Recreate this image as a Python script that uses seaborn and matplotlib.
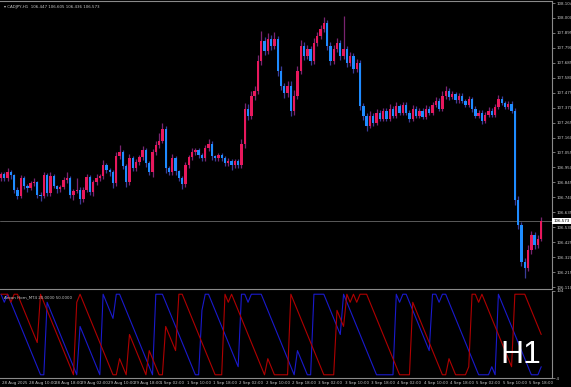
import numpy as np
import pandas as pd
import matplotlib
matplotlib.use("Agg")
import matplotlib.pyplot as plt
import matplotlib.transforms as mtransforms
import seaborn as sns

# ---------------- data ----------------
symbol_header = "\u25be CADJPY,H1  106.447 106.605 106.436 106.573"
indicator_label = "Aroon Horn_MT4 20.0000 50.0000"
period_label = "H1"

first_open = 106.873
closes = [
    106.901, 106.873, 106.915, 106.894, 106.789, 106.747, 106.873, 106.817, 106.803, 106.838,
    106.845, 106.754, 106.747, 106.894, 106.768, 106.887, 106.817, 106.796, 106.810, 106.859,
    106.873, 106.754, 106.782, 106.789, 106.726, 106.789, 106.880, 106.775, 106.845, 106.873,
    106.887, 106.964, 106.929, 106.915, 106.838, 107.027, 107.055, 106.957, 106.845, 107.013,
    106.943, 106.985, 107.020, 107.069, 106.978, 106.915, 107.055, 107.104, 107.139, 107.223,
    106.943, 106.915, 107.013, 106.922, 106.873, 106.831, 106.964, 107.020, 107.055, 107.069,
    107.034, 107.013, 107.083, 107.118, 107.027, 107.013, 107.034, 107.013, 106.978, 106.992,
    106.964, 106.992, 106.964, 107.118, 107.363, 107.314, 107.454, 107.489, 107.699, 107.839,
    107.769, 107.853, 107.804, 107.853, 107.629, 107.524, 107.475, 107.524, 107.349, 107.454,
    107.629, 107.804, 107.734, 107.783, 107.699, 107.825, 107.874, 107.923, 107.965, 107.804,
    107.699, 107.783, 107.825, 107.734, 107.783, 107.685, 107.734, 107.643, 107.685, 107.384,
    107.314, 107.244, 107.314, 107.265, 107.335, 107.293, 107.349, 107.293, 107.363, 107.314,
    107.384, 107.335, 107.391, 107.335, 107.293, 107.363, 107.314, 107.349, 107.307, 107.363,
    107.335, 107.391, 107.419, 107.363, 107.454, 107.489, 107.447, 107.468, 107.426, 107.454,
    107.419, 107.391, 107.433, 107.363, 107.314, 107.335, 107.279, 107.321, 107.349, 107.321,
    107.377, 107.433, 107.405, 107.377, 107.398, 107.349, 106.719, 106.544, 106.285, 106.243,
    106.369, 106.474, 106.404, 106.447, 106.573,
]
upper_wick = [
    0.020, 0.015, 0.030, 0.020, 0.010, 0.020, 0.025, 0.020, 0.015, 0.020,
    0.030, 0.010, 0.020, 0.025, 0.015, 0.030, 0.020, 0.010, 0.020, 0.025,
    0.045, 0.020, 0.015, 0.090, 0.020, 0.020, 0.025, 0.015, 0.020, 0.030,
    0.020, 0.035, 0.020, 0.015, 0.020, 0.030, 0.050, 0.020, 0.015, 0.030,
    0.020, 0.025, 0.020, 0.030, 0.015, 0.020, 0.025, 0.030, 0.050, 0.040,
    0.020, 0.015, 0.030, 0.020, 0.010, 0.020, 0.025, 0.020, 0.030, 0.020,
    0.015, 0.020, 0.025, 0.030, 0.020, 0.010, 0.020, 0.015, 0.020, 0.025,
    0.020, 0.015, 0.020, 0.030, 0.040, 0.030, 0.035, 0.030, 0.040, 0.070,
    0.030, 0.040, 0.025, 0.050, 0.020, 0.030, 0.020, 0.035, 0.030, 0.040,
    0.030, 0.040, 0.025, 0.030, 0.020, 0.035, 0.030, 0.030, 0.040, 0.020,
    0.025, 0.030, 0.035, 0.020, 0.230, 0.020, 0.030, 0.020, 0.025, 0.020,
    0.020, 0.015, 0.030, 0.020, 0.025, 0.015, 0.020, 0.015, 0.030, 0.020,
    0.025, 0.015, 0.020, 0.020, 0.015, 0.025, 0.020, 0.015, 0.020, 0.025,
    0.015, 0.020, 0.025, 0.020, 0.030, 0.035, 0.020, 0.020, 0.015, 0.020,
    0.020, 0.015, 0.020, 0.015, 0.020, 0.020, 0.015, 0.020, 0.025, 0.015,
    0.020, 0.025, 0.020, 0.015, 0.020, 0.020, 0.020, 0.030, 0.020, 0.030,
    0.035, 0.030, 0.020, 0.025, 0.032,
]
lower_wick = [
    0.015, 0.020, 0.020, 0.025, 0.020, 0.020, 0.015, 0.020, 0.025, 0.015,
    0.020, 0.020, 0.035, 0.015, 0.020, 0.020, 0.015, 0.025, 0.020, 0.015,
    0.020, 0.020, 0.030, 0.015, 0.030, 0.020, 0.015, 0.020, 0.025, 0.015,
    0.020, 0.015, 0.020, 0.025, 0.030, 0.020, 0.015, 0.020, 0.030, 0.020,
    0.020, 0.015, 0.020, 0.020, 0.025, 0.020, 0.030, 0.015, 0.020, 0.020,
    0.030, 0.020, 0.020, 0.025, 0.020, 0.030, 0.020, 0.015, 0.020, 0.015,
    0.020, 0.015, 0.020, 0.020, 0.025, 0.020, 0.015, 0.020, 0.020, 0.015,
    0.035, 0.020, 0.020, 0.020, 0.030, 0.030, 0.025, 0.030, 0.020, 0.030,
    0.030, 0.025, 0.030, 0.020, 0.035, 0.030, 0.040, 0.030, 0.040, 0.030,
    0.020, 0.025, 0.030, 0.020, 0.030, 0.020, 0.020, 0.025, 0.020, 0.030,
    0.030, 0.020, 0.020, 0.030, 0.020, 0.030, 0.020, 0.030, 0.025, 0.030,
    0.030, 0.035, 0.020, 0.025, 0.020, 0.020, 0.015, 0.020, 0.020, 0.015,
    0.020, 0.020, 0.015, 0.020, 0.025, 0.020, 0.015, 0.020, 0.020, 0.015,
    0.020, 0.015, 0.020, 0.020, 0.015, 0.020, 0.020, 0.015, 0.020, 0.020,
    0.015, 0.020, 0.020, 0.025, 0.020, 0.015, 0.025, 0.020, 0.015, 0.020,
    0.020, 0.015, 0.020, 0.020, 0.015, 0.020, 0.035, 0.030, 0.030, 0.070,
    0.020, 0.030, 0.025, 0.020, 0.011,
]
x_labels = [
    "28 Aug 2025", "28 Aug 10:00", "28 Aug 18:00", "29 Aug 02:00", "29 Aug 10:00",
    "29 Aug 18:00", "1 Sep 02:00", "1 Sep 10:00", "1 Sep 18:00", "2 Sep 02:00",
    "2 Sep 10:00", "2 Sep 18:00", "3 Sep 02:00", "3 Sep 10:00", "3 Sep 18:00",
    "4 Sep 02:00", "4 Sep 10:00", "4 Sep 18:00", "5 Sep 02:00", "5 Sep 10:00",
    "5 Sep 18:00",
]
bars_per_label = 8
price_ticks = [108.104, 108.000, 107.895, 107.790, 107.685, 107.580, 107.475, 107.370,
               107.265, 107.160, 107.055, 106.950, 106.845, 106.740, 106.635, 106.530,
               106.425, 106.320, 106.215, 106.110]
last_price = 106.573
aroon_period = 10
ind_ticks = [104, -4]

# ---------------- derived ----------------
n = len(closes)
closes_a = np.array(closes)
opens_a = np.array([first_open] + closes[:-1])
highs_a = np.maximum(opens_a, closes_a) + np.array(upper_wick)
lows_a = np.minimum(opens_a, closes_a) - np.array(lower_wick)
idx = np.arange(n)

aroon_up, aroon_dn = [], []
for i in range(n):
    s = max(0, i - aroon_period)
    wh = highs_a[s:i + 1]
    wl = lows_a[s:i + 1]
    hi_pos = s + (len(wh) - 1 - int(np.argmax(wh[::-1])))
    lo_pos = s + (len(wl) - 1 - int(np.argmin(wl[::-1])))
    aroon_up.append(100.0 * (aroon_period - (i - hi_pos)) / aroon_period)
    aroon_dn.append(100.0 * (aroon_period - (i - lo_pos)) / aroon_period)
ind_df = pd.DataFrame({"bar": idx, "up": aroon_up, "down": aroon_dn})

# ---------------- style ----------------
sns.set_theme(style="dark", rc={"axes.facecolor": "black", "figure.facecolor": "black"})
plt.rcParams["font.family"] = ["DejaVu Sans"]

BULL = "#E8185C"
BEAR = "#1E8CFF"
WICK_BULL = "#7A2470"
WICK_BEAR = "#3A3C98"
TXT = "#C8C8C8"
FRAME = "#8A8A8A"
FS = 2.9

W, H = 571, 387
fig = plt.figure(figsize=(W / 100, H / 100), dpi=100)
fig.patch.set_facecolor("black")

right_px = 552
px_per_bar = 3.294
x0 = -1.0 / px_per_bar
xlim = (x0, x0 + right_px / px_per_bar)

ax = fig.add_axes([0, 1 - 289 / H, right_px / W, 288 / H])
ax2 = fig.add_axes([0, 1 - 378 / H, right_px / W, 87 / H])
for a in (ax, ax2):
    a.set_facecolor("black")
    a.set_xlim(*xlim)
    for sp in a.spines.values():
        sp.set_color(FRAME)
        sp.set_linewidth(0.8)
    a.spines["left"].set_visible(False)
    a.grid(False)

# ---------------- candles ----------------
bull = closes_a >= opens_a
wick_cols = [WICK_BULL if b else WICK_BEAR for b in bull]
ax.vlines(idx, lows_a, highs_a, colors=wick_cols, linewidth=0.9, zorder=2)
body_h = np.maximum(np.abs(closes_a - opens_a), 0.003)
body_b = np.minimum(opens_a, closes_a)
ax.bar(idx, body_h, bottom=body_b, width=0.72,
       color=[BULL if b else BEAR for b in bull], linewidth=0, zorder=3)

ymin, ymax = 106.096, 108.119
ax.set_ylim(ymin, ymax)
ax.axhline(last_price, color="#5A5A5A", linewidth=0.7, zorder=1)

ax.yaxis.tick_right()
ax.set_yticks(price_ticks)
ax.set_yticklabels([f"{v:.3f}" for v in price_ticks])
ax.tick_params(axis="y", colors=FRAME, labelcolor=TXT, labelsize=FS, length=2,
               width=0.6, pad=1.0, direction="out")
ax.set_xticks([])
ax.text(1.0 + 1.5 / right_px, last_price, f"{last_price:.3f}",
        transform=mtransforms.blended_transform_factory(ax.transAxes, ax.transData),
        ha="left", va="center", fontsize=FS, color="black", zorder=10, clip_on=False,
        bbox=dict(boxstyle="square,pad=0.3", fc="white", ec="white", lw=0))

ax.text(4 / right_px, 1 - 6 / 288, symbol_header, transform=ax.transAxes,
        ha="left", va="center", fontsize=FS, color=TXT)

# ---------------- indicator ----------------
sns.lineplot(data=ind_df, x="bar", y="up", ax=ax2, color="#1A1ACD", linewidth=0.8,
             legend=False)
sns.lineplot(data=ind_df, x="bar", y="down", ax=ax2, color="#B00000", linewidth=0.8,
             legend=False)
ax2.set_ylim(-4, 104)
ax2.spines["top"].set_visible(False)
ax2.set_xlabel("")
ax2.set_ylabel("")
ax2.yaxis.tick_right()
ax2.set_yticks(ind_ticks)
ax2.set_yticklabels([str(v) for v in ind_ticks])
ax2.tick_params(axis="y", colors=FRAME, labelcolor=TXT, labelsize=FS, length=2,
                width=0.6, pad=1.0)
ax2.text(4 / right_px, 1 - 6 / 87, indicator_label, transform=ax2.transAxes,
         ha="left", va="center", fontsize=FS, color=TXT)
ax2.text(0.981, 0.27, period_label, transform=ax2.transAxes, ha="right",
         va="center", fontsize=23, color="white", family=["Liberation Sans", "DejaVu Sans"])

tick_pos = [k * bars_per_label for k in range(len(x_labels))]
ax2.set_xticks(tick_pos)
ax2.set_xticklabels([""] * len(tick_pos))
ax2.tick_params(axis="x", colors=FRAME, length=5, width=0.6, direction="out")
btf = mtransforms.blended_transform_factory(ax2.transData, ax2.transAxes)
for p, lab in zip(tick_pos, x_labels):
    ax2.text(p + 0.35, -5 / 87, lab, transform=btf, ha="left", va="center",
             fontsize=FS, color=TXT, clip_on=False)

fig.savefig("out.png", dpi=100, facecolor="black")
